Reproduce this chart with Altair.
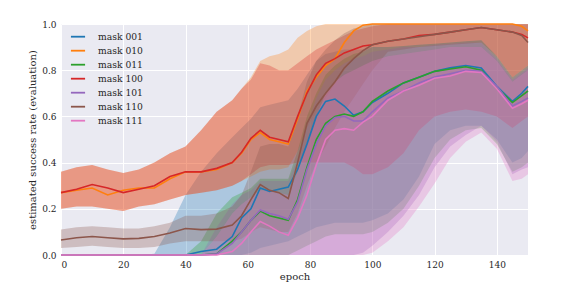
import altair as alt
import pandas as pd

# epoch grid
epochs = [0, 5, 10, 15, 20, 25, 30, 35, 40, 45, 50, 55, 58, 61, 64, 67, 70, 73, 76, 79,
          82, 85, 88, 91, 94, 97, 100, 105, 110, 115, 120, 125, 130, 135, 140, 145, 148, 150]

masks = ["mask 001", "mask 010", "mask 011", "mask 100", "mask 101", "mask 110", "mask 111"]
colors = ["#1f77b4", "#ff7f0e", "#2ca02c", "#d62728", "#9467bd", "#8c564b", "#e377c2"]

# mask 001
m001 = [0, 0, 0, 0, 0, 0, 0, 0, 0, 0.015, 0.025, 0.08, 0.16, 0.20, 0.29, 0.275, 0.285, 0.294, 0.37, 0.48,
        0.60, 0.665, 0.675, 0.645, 0.605, 0.62, 0.66, 0.70, 0.745, 0.77, 0.795, 0.81, 0.82, 0.81, 0.73, 0.665, 0.70, 0.73]
lo001 = [0, 0, 0, 0, 0, 0, 0, 0, 0, 0, 0, 0, 0, 0.01, 0.03, 0.04, 0.05, 0.06, 0.08, 0.10,
         0.12, 0.13, 0.14, 0.14, 0.14, 0.14, 0.15, 0.18, 0.24, 0.34, 0.48, 0.54, 0.56, 0.56, 0.50, 0.40, 0.42, 0.45]
hi001 = [0, 0, 0, 0, 0, 0, 0.005, 0.12, 0.26, 0.36, 0.44, 0.51, 0.55, 0.59, 0.64, 0.65, 0.66, 0.67, 0.72, 0.78,
         0.84, 0.87, 0.88, 0.89, 0.89, 0.89, 0.90, 0.90, 0.905, 0.91, 0.915, 0.92, 0.925, 0.93, 0.86, 0.77, 0.80, 0.82]

# mask 010
m010 = [0.27, 0.28, 0.29, 0.26, 0.28, 0.29, 0.29, 0.33, 0.36, 0.36, 0.37, 0.40, 0.44, 0.50, 0.53, 0.50, 0.49, 0.48, 0.59, 0.71,
        0.77, 0.82, 0.85, 0.92, 0.97, 0.995, 1.0, 1.0, 1.0, 1.0, 1.0, 1.0, 1.0, 1.0, 1.0, 1.0, 0.99, 0.97]
lo010 = [0.20, 0.21, 0.21, 0.20, 0.19, 0.21, 0.22, 0.24, 0.26, 0.27, 0.28, 0.30, 0.32, 0.34, 0.36, 0.37, 0.37, 0.38, 0.45, 0.55,
         0.62, 0.68, 0.74, 0.80, 0.85, 0.88, 0.90, 0.90, 0.905, 0.91, 0.915, 0.92, 0.925, 0.93, 0.86, 0.77, 0.80, 0.82]
hi010 = [0.36, 0.38, 0.39, 0.37, 0.355, 0.37, 0.40, 0.44, 0.47, 0.54, 0.62, 0.67, 0.72, 0.77, 0.84, 0.86, 0.87, 0.89, 0.94, 0.97,
         0.99, 1.0, 1.0, 1.0, 1.0, 1.0, 1.0, 1.0, 1.0, 1.0, 1.0, 1.0, 1.0, 1.0, 1.0, 1.0, 1.0, 1.0]

# mask 011
m011 = [0, 0, 0, 0, 0, 0, 0, 0, 0, 0, 0.005, 0.06, 0.10, 0.15, 0.19, 0.17, 0.16, 0.15, 0.24, 0.38,
        0.50, 0.57, 0.60, 0.61, 0.60, 0.62, 0.665, 0.71, 0.745, 0.77, 0.795, 0.805, 0.815, 0.80, 0.725, 0.66, 0.69, 0.71]
lo011 = [0, 0, 0, 0, 0, 0, 0, 0, 0, 0, 0, 0, 0, 0, 0, 0, 0, 0, 0.02, 0.04,
         0.06, 0.08, 0.09, 0.09, 0.09, 0.09, 0.10, 0.14, 0.20, 0.30, 0.42, 0.50, 0.54, 0.55, 0.48, 0.36, 0.38, 0.40]
hi011 = [0, 0, 0, 0, 0, 0, 0, 0, 0, 0.06, 0.18, 0.25, 0.27, 0.29, 0.33, 0.33, 0.33, 0.33, 0.45, 0.60,
         0.70, 0.78, 0.82, 0.85, 0.87, 0.88, 0.90, 0.90, 0.905, 0.91, 0.915, 0.92, 0.925, 0.93, 0.86, 0.77, 0.80, 0.82]

# mask 100
m100 = [0.27, 0.285, 0.305, 0.29, 0.27, 0.285, 0.30, 0.34, 0.36, 0.36, 0.375, 0.40, 0.445, 0.505, 0.54, 0.51, 0.50, 0.49, 0.60, 0.70,
        0.78, 0.83, 0.85, 0.875, 0.89, 0.905, 0.91, 0.925, 0.935, 0.95, 0.955, 0.965, 0.975, 0.985, 0.975, 0.965, 0.955, 0.94]
lo100 = [0.20, 0.21, 0.21, 0.20, 0.19, 0.21, 0.22, 0.24, 0.26, 0.27, 0.28, 0.30, 0.32, 0.35, 0.38, 0.39, 0.39, 0.39, 0.40, 0.40,
         0.40, 0.40, 0.40, 0.40, 0.38, 0.35, 0.35, 0.38, 0.44, 0.54, 0.60, 0.62, 0.63, 0.62, 0.60, 0.55, 0.58, 0.60]
hi100 = [0.36, 0.38, 0.39, 0.37, 0.355, 0.37, 0.40, 0.44, 0.47, 0.54, 0.62, 0.67, 0.72, 0.76, 0.83, 0.82, 0.80, 0.80, 0.83, 0.86,
         0.89, 0.91, 0.93, 0.95, 0.97, 0.98, 0.99, 1.0, 1.0, 1.0, 1.0, 1.0, 1.0, 1.0, 1.0, 1.0, 1.0, 1.0]

# mask 101
m101 = [0, 0, 0, 0, 0, 0, 0, 0, 0, 0, 0.005, 0.05, 0.10, 0.15, 0.195, 0.18, 0.17, 0.155, 0.23, 0.37,
        0.48, 0.56, 0.595, 0.60, 0.58, 0.58, 0.62, 0.68, 0.71, 0.745, 0.77, 0.785, 0.80, 0.795, 0.73, 0.645, 0.665, 0.68]
lo101 = [0, 0, 0, 0, 0, 0, 0, 0, 0, 0, 0, 0, 0, 0, 0, 0, 0, 0, 0, 0,
         0, 0, 0, 0, 0, 0.01, 0.04, 0.10, 0.17, 0.26, 0.38, 0.47, 0.52, 0.56, 0.49, 0.35, 0.37, 0.38]
hi101 = [0, 0, 0, 0, 0, 0, 0, 0, 0, 0, 0.12, 0.22, 0.26, 0.28, 0.32, 0.32, 0.32, 0.32, 0.42, 0.56,
         0.68, 0.76, 0.80, 0.83, 0.85, 0.86, 0.88, 0.89, 0.90, 0.90, 0.91, 0.915, 0.92, 0.92, 0.85, 0.76, 0.79, 0.81]

# mask 110
m110 = [0.065, 0.075, 0.08, 0.075, 0.07, 0.072, 0.08, 0.095, 0.115, 0.11, 0.112, 0.13, 0.17, 0.24, 0.305, 0.28, 0.27, 0.245, 0.40, 0.57,
        0.645, 0.70, 0.75, 0.81, 0.85, 0.885, 0.91, 0.925, 0.935, 0.945, 0.955, 0.965, 0.975, 0.985, 0.975, 0.965, 0.95, 0.92]
lo110 = [0.03, 0.035, 0.04, 0.035, 0.03, 0.03, 0.035, 0.05, 0.06, 0.06, 0.06, 0.06, 0.07, 0.10, 0.12, 0.11, 0.10, 0.10, 0.18, 0.30,
         0.40, 0.47, 0.55, 0.62, 0.68, 0.74, 0.80, 0.88, 0.89, 0.90, 0.905, 0.91, 0.915, 0.92, 0.86, 0.77, 0.80, 0.82]
hi110 = [0.11, 0.12, 0.125, 0.12, 0.115, 0.115, 0.125, 0.14, 0.17, 0.17, 0.18, 0.21, 0.26, 0.36, 0.47, 0.48, 0.48, 0.47, 0.60, 0.75,
         0.84, 0.89, 0.93, 0.96, 0.98, 0.99, 1.0, 1.0, 1.0, 1.0, 1.0, 1.0, 1.0, 1.0, 1.0, 1.0, 1.0, 1.0]

# mask 111
m111 = [0, 0, 0, 0, 0, 0, 0, 0, 0, 0, 0, 0.015, 0.05, 0.10, 0.145, 0.125, 0.10, 0.085, 0.16, 0.26,
        0.39, 0.50, 0.54, 0.547, 0.54, 0.575, 0.60, 0.67, 0.71, 0.735, 0.765, 0.775, 0.795, 0.79, 0.72, 0.635, 0.655, 0.67]
lo111 = [0, 0, 0, 0, 0, 0, 0, 0, 0, 0, 0, 0, 0, 0, 0, 0, 0, 0, 0, 0,
         0, 0, 0, 0, 0, 0, 0.01, 0.06, 0.12, 0.21, 0.31, 0.42, 0.49, 0.53, 0.46, 0.32, 0.33, 0.35]
hi111 = [0, 0, 0, 0, 0, 0, 0, 0, 0, 0, 0.08, 0.18, 0.22, 0.25, 0.28, 0.28, 0.27, 0.26, 0.36, 0.48,
         0.60, 0.70, 0.75, 0.78, 0.80, 0.82, 0.84, 0.86, 0.87, 0.88, 0.89, 0.90, 0.90, 0.90, 0.84, 0.75, 0.78, 0.80]

series = {
    "mask 001": (m001, lo001, hi001),
    "mask 010": (m010, lo010, hi010),
    "mask 011": (m011, lo011, hi011),
    "mask 100": (m100, lo100, hi100),
    "mask 101": (m101, lo101, hi101),
    "mask 110": (m110, lo110, hi110),
    "mask 111": (m111, lo111, hi111),
}

rows = []
for k, name in enumerate(masks):
    m, lo, hi = series[name]
    for e, a, b, c in zip(epochs, m, lo, hi):
        rows.append({"epoch": e, "mask": name, "band": name + " ", "order": k,
                     "mean": a, "lo": b, "hi": c})
df = pd.DataFrame(rows)

FONT = "DejaVu Serif"
x_enc = alt.X("epoch:Q", scale=alt.Scale(domain=[0, 150], nice=False),
              axis=alt.Axis(values=[0, 20, 40, 60, 80, 100, 120, 140], title="epoch", format="d"))
y_scale = alt.Scale(domain=[0, 1], nice=False)

bands = alt.Chart(df).mark_area(opacity=0.3, interpolate="linear").encode(
    x=x_enc,
    y=alt.Y("lo:Q", scale=y_scale, stack=None,
            axis=alt.Axis(values=[0, 0.2, 0.4, 0.6, 0.8, 1.0], format=".1f",
                          title="estimated success rate (evaluation)")),
    y2="hi:Q",
    color=alt.Color("band:N", scale=alt.Scale(domain=[m + " " for m in masks], range=colors),
                    legend=None),
    order="order:Q",
)

lines = alt.Chart(df).mark_line(strokeWidth=1.6).encode(
    x=x_enc,
    y=alt.Y("mean:Q", scale=y_scale),
    color=alt.Color("mask:N", scale=alt.Scale(domain=masks, range=colors),
                    legend=alt.Legend(title=None, orient="none", legendX=9, legendY=4.7,
                                      symbolType="stroke", symbolSize=200, symbolStrokeWidth=1.8,
                                      labelFont=FONT, labelFontSize=9.2, labelColor="#262626",
                                      rowPadding=0, padding=0, labelOffset=12)),
    order="order:Q",
)

chart = alt.layer(bands, lines).resolve_scale(color="independent").properties(
    width=467, height=231,
    autosize=alt.AutoSizeParams(type="none"),
    padding={"left": 53, "top": 16, "right": 20, "bottom": 30},
    background="white",
).configure_view(
    fill="#EAEAF2", stroke=None,
).configure_axis(
    grid=True, gridColor="white", gridWidth=1, domain=False, ticks=False,
    labelFont=FONT, labelFontSize=9, labelColor="#262626", labelPadding=5,
    titleFont=FONT, titleFontSize=10, titleColor="#262626", titleFontWeight="normal",
).configure_axisX(titlePadding=2).configure_axisY(titlePadding=4)

chart.save("out.html", embed_options={"renderer": "svg", "actions": False})
